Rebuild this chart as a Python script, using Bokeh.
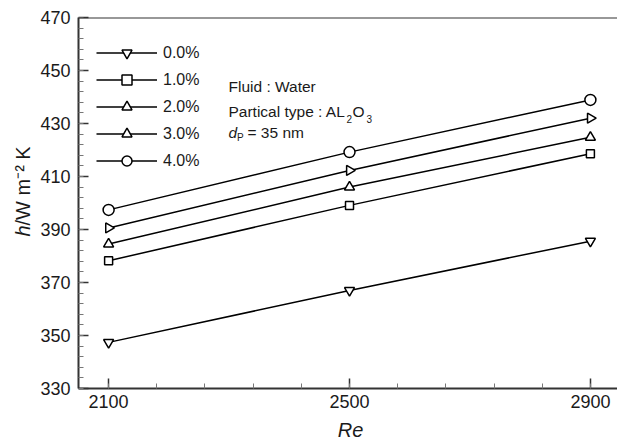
import numpy as np
from bokeh.plotting import figure
from bokeh.models import (Range1d, FixedTicker, Legend, LegendItem, Label, Span)
from bokeh.core.properties import value
from bokeh.embed import file_html
from bokeh.resources import INLINE

# Reynolds numbers and heat transfer coefficient for each volume fraction
re_vals = [2100, 2500, 2900]
h_00 = [347.4, 367.0, 385.6]
h_10 = [378.2, 399.1, 418.6]
h_20 = [384.5, 406.0, 424.8]
h_30 = [390.6, 412.3, 432.0]
h_40 = [397.4, 419.2, 438.9]
series_labels = ["0.0%", "1.0%", "2.0%", "3.0%", "4.0%"]

x_major = [2100, 2500, 2900]
y_major = list(range(330, 471, 20))

FONT = "Liberation Sans"
INK = "#1a1a1a"
AXIS = "#333333"

X0, X1 = 2050, 2945
Y0, Y1 = 330, 470
W, H = 617, 439
LEFT, TOP, BOTTOM = 78, 17, 51

p = figure(width=W, height=H, output_backend="svg", toolbar_location=None,
           x_range=Range1d(X0, X1), y_range=Range1d(Y0, Y1),
           min_border_left=LEFT, min_border_right=0, min_border_top=TOP,
           min_border_bottom=BOTTOM)
p.outline_line_color = None
p.xgrid.visible = False
p.ygrid.visible = False
p.background_fill_color = "white"
p.border_fill_color = "white"

p.xaxis.ticker = FixedTicker(ticks=x_major, minor_ticks=list(range(2100, 2901, 80)))
p.yaxis.ticker = FixedTicker(ticks=y_major, minor_ticks=list(range(330, 471, 4)))

for ax in (p.xaxis[0], p.yaxis[0]):
    ax.axis_line_color = AXIS
    ax.axis_line_width = 2
    ax.major_tick_in = 10
    ax.major_tick_out = 0
    ax.minor_tick_in = 5
    ax.minor_tick_out = 0
    ax.major_tick_line_color = AXIS
    ax.major_tick_line_width = 1.5
    ax.minor_tick_line_color = "#777777"
    ax.minor_tick_line_width = 1
    ax.major_label_text_font = FONT
    ax.major_label_text_font_size = "18px"
    ax.major_label_text_color = INK
p.yaxis.major_label_standoff = 8
p.xaxis.major_label_standoff = 6

# top border line of the frame
p.add_layout(Span(location=Y1, dimension="width", line_color=AXIS, line_width=2))

markers = [
    dict(marker="inverted_triangle", size=10, angle=0.0),
    dict(marker="square", size=8, angle=0.0),
    dict(marker="triangle", size=10, angle=0.0),
    dict(marker="triangle", size=10, angle=-np.pi / 2),
    dict(marker="circle", size=11, angle=0.0),
]
series = [h_00, h_10, h_20, h_30, h_40]

items = []
for vals, label, m in zip(series, series_labels, markers):
    ln = p.line(re_vals, vals, line_color="black", line_width=1.5)
    sc = p.scatter(re_vals, vals, marker=m["marker"], size=m["size"], angle=m["angle"],
                   fill_color="white", line_color="black", line_width=1.5)
    items.append(LegendItem(label=label, renderers=[ln, sc]))

legend = Legend(items=items, location=(18, 215), padding=0, margin=0,
                spacing=2, glyph_width=61, glyph_height=25, label_height=25,
                label_standoff=6, border_line_color=None,
                background_fill_alpha=0,
                label_text_font=FONT, label_text_font_size="16px",
                label_text_color=INK)
p.add_layout(legend)

def note(x, y, text, size="15.5px", style="normal"):
    p.add_layout(Label(x=x, y=y, x_units="screen", y_units="screen", text=text,
                       text_font=FONT, text_font_size=size, text_font_style=style,
                       text_color=INK, text_align="left",
                       text_baseline="alphabetic"))

# fluid and particle annotation
note(150, 302, "Fluid : Water")
note(150, 277, "Partical type : AL")
note(268, 270, "2", size="10px")
note(274, 277, "O")
note(288, 270, "3", size="10px")
note(150, 256, "d", style="italic")
note(158.5, 251, "P", size="10px")
note(169, 256, "= 35 nm")

# axis titles, drawn as overlay text so they sit outside the frame
def px_to_data(sx, sy):
    fw = W - LEFT
    fh = H - TOP - BOTTOM
    return (X0 + (sx - LEFT) * (X1 - X0) / fw,
            Y1 - (sy - TOP) * (Y1 - Y0) / fh)

def title_text(sx, sy, text, style, align="left", angle=0.0):
    x, y = px_to_data(sx, sy)
    p.text(x=[x], y=[y], text=[text], angle=angle, level="overlay",
           text_font=value(FONT), text_font_size="20px", text_font_style=style,
           text_color=INK, text_align=align, text_baseline="middle")

title_text(350, 429, "Re", "italic", align="center")
title_text(22, 236, "h", "italic", angle=np.pi / 2)
title_text(22, 225, "/W m\u207b\u00b2 K", "normal", angle=np.pi / 2)

open("out.html", "w").write(file_html(p, INLINE))
